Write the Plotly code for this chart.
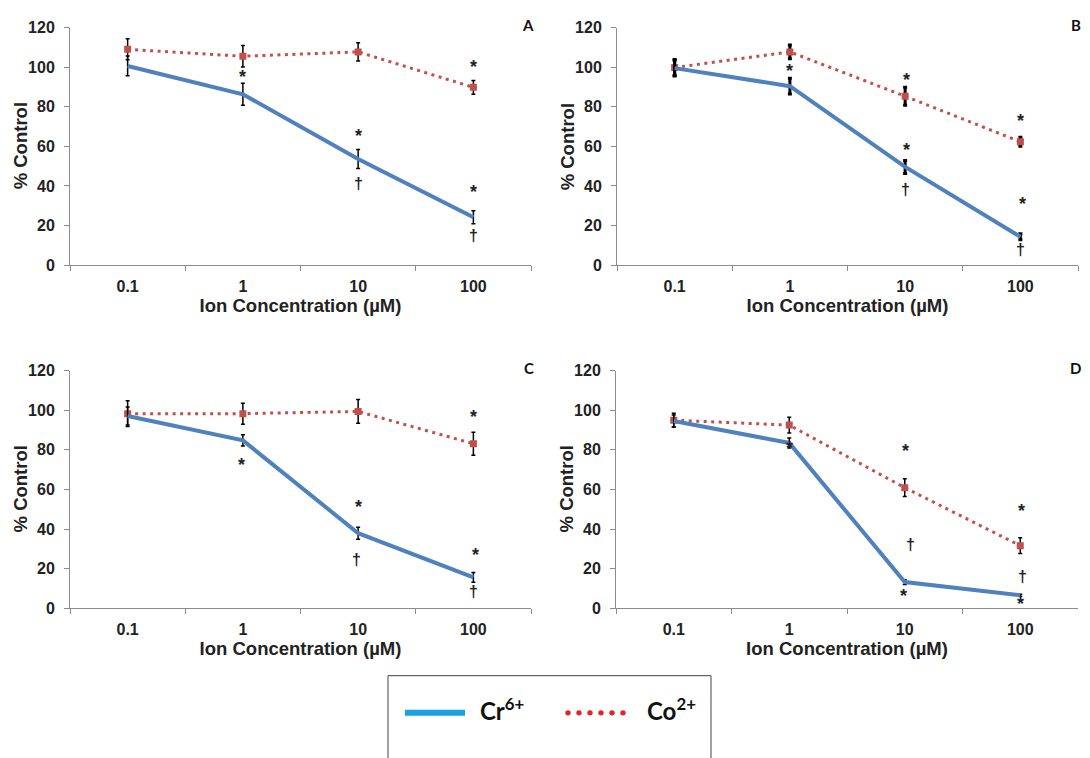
import plotly.graph_objects as go

conc_labels = ["0.1", "1", "10", "100"]

panels = ["A", "B", "C", "D"]
cr_vals = {
    "A": [100.6, 86.3, 53.6, 24.2],
    "B": [99.5, 90.4, 49.6, 14.3],
    "C": [97.1, 84.8, 37.9, 15.6],
    "D": [94.6, 83.5, 13.2, 6.5],
}
cr_err = {
    "A": [5.0, 5.5, 4.8, 3.3],
    "B": [4.0, 4.0, 3.3, 1.5],
    "C": [4.5, 2.8, 3.0, 2.5],
    "D": [3.0, 2.5, 1.2, 0.5],
}
co_vals = {
    "A": [109.0, 105.5, 107.7, 89.8],
    "B": [99.8, 107.7, 85.3, 62.3],
    "C": [98.3, 98.3, 99.4, 83.1],
    "D": [95.0, 92.5, 60.9, 31.6],
}
co_err = {
    "A": [5.3, 5.4, 4.6, 3.5],
    "B": [4.0, 3.5, 4.5, 2.3],
    "C": [6.5, 5.3, 6.0, 5.8],
    "D": [3.5, 4.0, 4.5, 4.0],
}
# significance marks: (category index, y value, symbol)
sig_marks = {
    "A": [(1, 95, "*"), (2, 65, "*"), (2, 41, "†"), (3, 100, "*"), (3, 37, "*"), (3, 15, "†")],
    "B": [(1, 98, "*"), (2.01, 93.5, "*"), (2.01, 58.3, "*"), (2, 38, "†"), (3, 72.7, "*"), (3.02, 31, "*"), (3, 8, "†")],
    "C": [(0.99, 72.3, "*"), (2, 51, "*"), (1.99, 24.7, "†"), (3, 96.6, "*"), (3.02, 27, "*"), (3, 8.2, "†")],
    "D": [(1, 81, "*"), (2.01, 79.3, "*"), (2.05, 32.4, "†"), (1.99, 6, "*"), (3.01, 49.2, "*"), (3.02, 16, "†"), (3, 2.3, "*")],
}

W, H = 1090, 758
boxes = {
    "A": (70, 531, 20, 263),
    "B": (617, 1078, 20, 263),
    "C": (70, 531, 371, 614),
    "D": (616, 1078, 371, 614),
}

FONT = "Liberation Sans"
CR_COLOR = "#4F81BD"
CO_COLOR = "#C0504D"
AX_COLOR = "#8C8C8C"

fig = go.Figure()
layout = dict(
    width=W, height=H, margin=dict(l=0, r=0, t=0, b=0),
    paper_bgcolor="white", plot_bgcolor="white", showlegend=False,
    font=dict(family=FONT, color="#222222"),
)
annotations = []
shapes = []

for i, p in enumerate(panels):
    n = "" if i == 0 else str(i + 1)
    xa, ya = "x" + n, "y" + n
    x0, x1, y0, y1 = boxes[p]
    layout["xaxis" + n] = dict(
        domain=[x0 / W, x1 / W], anchor=ya, type="category", range=[-0.5, 3.5],
        ticks="outside", tickson="boundaries", ticklen=5, tickcolor=AX_COLOR,
        showgrid=False, zeroline=False, showline=True, linecolor=AX_COLOR, linewidth=1,
        tickfont=dict(family=FONT, size=16, color="#222222", weight="bold"),
        ticklabelstandoff=7,
        title=dict(text="Ion Concentration (µM)", standoff=1,
                   font=dict(family=FONT, size=18.5, color="#222222", weight="bold")),
    )
    layout["yaxis" + n] = dict(
        domain=[1 - y1 / H, 1 - y0 / H], anchor=xa, range=[0, 120],
        tickvals=[0, 20, 40, 60, 80, 100, 120], ticks="outside", ticklen=5,
        tickcolor=AX_COLOR, showgrid=False, zeroline=False, showline=True,
        linecolor=AX_COLOR, linewidth=1,
        tickfont=dict(family=FONT, size=16, color="#222222", weight="bold"),
        ticklabelstandoff=6,
    )
    annotations.append(dict(
        x=(x0 - 50) / W, y=1 - (y0 + y1) / 2 / H, xref="paper", yref="paper",
        text="% Control", textangle=-90, showarrow=False, xanchor="center", yanchor="middle",
        font=dict(family=FONT, size=18.5, color="#222222", weight="bold"),
    ))
    eth = 3 if p == "B" else 1.5
    fig.add_trace(go.Scatter(
        x=conc_labels, y=co_vals[p], xaxis=xa, yaxis=ya, mode="lines+markers",
        line=dict(color=CO_COLOR, width=3, dash="3px,4.5px"),
        marker=dict(symbol="square", size=7, color=CO_COLOR),
        error_y=dict(type="data", array=co_err[p], color="black", thickness=eth, width=2),
    ))
    fig.add_trace(go.Scatter(
        x=conc_labels, y=cr_vals[p], xaxis=xa, yaxis=ya, mode="lines",
        line=dict(color=CR_COLOR, width=4),
        error_y=dict(type="data", array=cr_err[p], color="black", thickness=eth, width=2),
    ))
    for (sx, sy, sym) in sig_marks[p]:
        annotations.append(dict(
            x=sx, y=sy, xref=xa, yref=ya, text=sym, showarrow=False,
            yshift=0,
            font=dict(family=FONT, size=18 if sym == "*" else 16, color="#222222", weight="bold"),
        ))
    annotations.append(dict(
        x=(x1 + 5) / W, y=1 - (y0 - 3) / H, xref="paper", yref="paper", text=p,
        showarrow=False, xanchor="right", yanchor="middle",
        font=dict(family="Lato", size=15, color="#111111", weight="bold"),
    ))

# legend box
shapes.append(dict(type="rect", xref="paper", yref="paper",
                   x0=388 / W, x1=711 / W, y0=-0.02, y1=1 - 683 / H,
                   line=dict(color="#404040", width=1), fillcolor="white"))
shapes.append(dict(type="line", xref="paper", yref="paper",
                   x0=405 / W, x1=465 / W, y0=1 - 721 / H, y1=1 - 721 / H,
                   line=dict(color="#1BA1E2", width=6)))
for k in range(6):
    cx = (568 + k * 11) / W
    cy = 1 - 721 / H
    shapes.append(dict(type="circle", xref="paper", yref="paper",
                       x0=cx - 2.7 / W, x1=cx + 2.7 / W, y0=cy - 2.7 / H, y1=cy + 2.7 / H,
                       line=dict(width=0), fillcolor="#E0242B"))
annotations.append(dict(x=478 / W, y=1 - 717 / H, xref="paper", yref="paper",
                        text="Cr<sup>6+</sup>", showarrow=False, xanchor="left", yanchor="middle",
                        font=dict(family="Lato", size=24, color="#111111", weight="bold")))
annotations.append(dict(x=645 / W, y=1 - 717 / H, xref="paper", yref="paper",
                        text="Co<sup>2+</sup>", showarrow=False, xanchor="left", yanchor="middle",
                        font=dict(family="Lato", size=24, color="#111111", weight="bold")))

layout["annotations"] = annotations
layout["shapes"] = shapes
fig.update_layout(**layout)
fig.write_html("out.html")
